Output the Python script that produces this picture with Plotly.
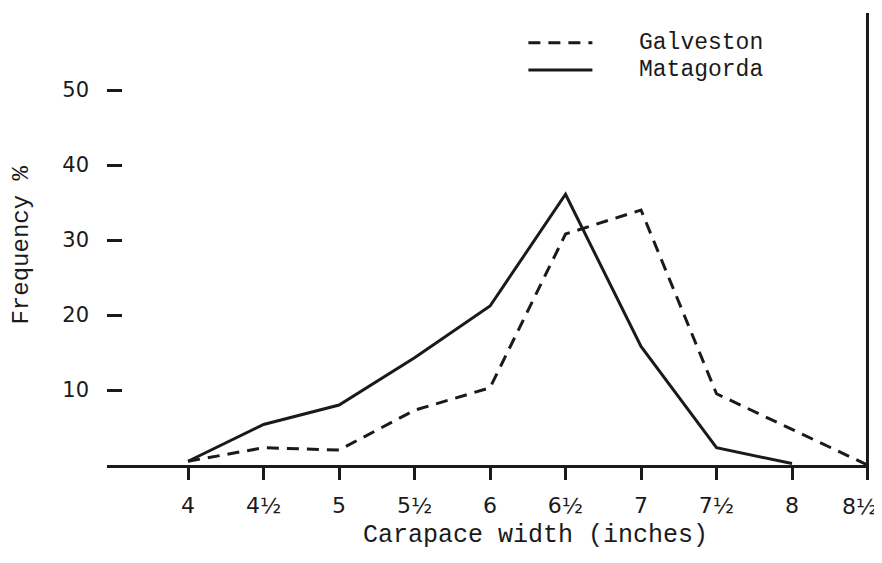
import plotly.graph_objects as go

widths = [4.0, 4.5, 5.0, 5.5, 6.0, 6.5, 7.0, 7.5, 8.0, 8.5]
tick_labels = ["4", "4½", "5", "5½", "6", "6½", "7", "7½", "8", "8½"]
galveston = [0.5, 2.3, 2.0, 7.3, 10.3, 30.8, 34.0, 9.5, None, 0.0]
matagorda = [0.5, 5.4, 8.0, 14.3, 21.2, 36.1, 15.8, 2.3, 0.2, None]
y_ticks = [10, 20, 30, 40, 50]

ink = "#1a1a1a"
mono = "Liberation Mono, Courier New, monospace"
sans = "DejaVu Sans, Liberation Sans, sans-serif"
dash_pat = "12px,8px"
xfont = dict(family=sans, size=22, color=ink)

fig = go.Figure()
fig.add_trace(go.Scatter(x=widths, y=galveston, mode="lines", name="Galveston",
                         connectgaps=True,
                         line=dict(color=ink, width=3, dash=dash_pat)))
fig.add_trace(go.Scatter(x=widths, y=matagorda, mode="lines", name="Matagorda",
                         connectgaps=True,
                         line=dict(color=ink, width=3)))

# the last tick label sits at the window edge; it is drawn as an annotation
# nudged inward (as in the original typed label) so it is not clipped
axis_text = tick_labels[:-1] + [""]

# page body has an 8px margin; figure sized so that it fits the window
fig.update_layout(
    width=874, height=555,
    margin=dict(l=99, r=13, t=5, b=98),
    paper_bgcolor="white", plot_bgcolor="white",
    showlegend=False,
    xaxis=dict(range=[3.463, 8.51], tickvals=widths, ticktext=axis_text,
               automargin=False,
               showgrid=False, zeroline=False, showline=True, linecolor=ink, linewidth=3,
               ticks="outside", ticklen=12, tickwidth=3, tickcolor=ink,
               ticklabelstandoff=7, ticklabeloverflow="allow",
               tickfont=xfont),
    yaxis=dict(range=[0, 60.27], tickvals=y_ticks,
               automargin=False,
               showgrid=False, zeroline=False, showline=False,
               ticks="inside", ticklen=15, tickwidth=3, tickcolor=ink,
               ticklabelstandoff=17,
               tickfont=dict(family=sans, size=21, color=ink)),
)

fig.add_annotation(xref="x", yref="y", x=widths[-1], y=0, text=tick_labels[-1],
                   showarrow=False, xanchor="center", yanchor="middle",
                   xshift=-8, yshift=-41, font=xfont)

# right-hand vertical rule at 8½
fig.add_shape(type="line", xref="x", yref="paper", x0=8.5, x1=8.5, y0=0, y1=1,
              line=dict(color=ink, width=3))

# manual legend
leg = [("Galveston", dash_pat, 0.934), ("Matagorda", "solid", 0.874)]
for name, dash, yy in leg:
    fig.add_shape(type="line", xref="paper", yref="paper", x0=0.553, x1=0.637,
                  y0=yy, y1=yy, line=dict(color=ink, width=3, dash=dash))
    fig.add_annotation(xref="paper", yref="paper", x=0.696, y=yy, text=name,
                       showarrow=False, xanchor="left", yanchor="middle",
                       font=dict(family=mono, size=23, color=ink))

fig.add_annotation(xref="paper", yref="paper", x=0.562, y=-0.155,
                   text="Carapace width (inches)", showarrow=False,
                   xanchor="center", yanchor="middle",
                   font=dict(family=mono, size=25, color=ink))
fig.add_annotation(xref="paper", yref="paper", x=-0.112, y=0.487,
                   text="Frequency %", showarrow=False, textangle=-90,
                   xanchor="center", yanchor="middle",
                   font=dict(family=mono, size=24, color=ink))

fig.write_html("out.html")
